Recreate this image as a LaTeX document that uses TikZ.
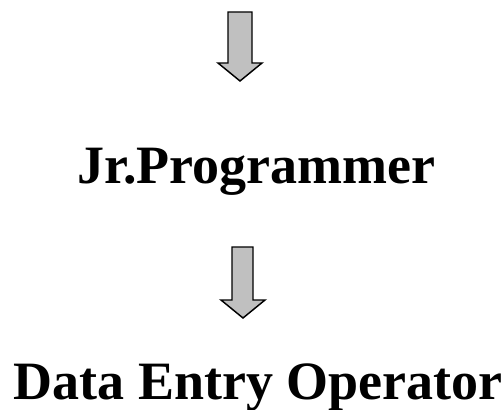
\documentclass[tikz,border=0pt]{standalone}
\usepackage{fontspec}
\setmainfont{Liberation Serif}
\tikzset{
  role/.style={anchor=base,font=\fontsize{40.5}{47}\selectfont\bfseries,inner sep=0pt},
  blockarrow/.style={draw=black,fill=arrowgray,line width=1.1pt,line join=miter}
}
\definecolor{arrowgray}{RGB}{192,192,192}
\begin{document}
\begin{tikzpicture}[x=0.75pt,y=-0.75pt]
		\useasboundingbox (0,0) rectangle (503,410);
		% arrows
			\draw [blockarrow] (228,12) -- (252,12) -- (252,63) -- (262,63) -- (240,81) -- (218,63) -- (228,63) -- cycle;
			\draw [blockarrow] (232,247) -- (253,247) -- (253,300) -- (265,300) -- (243,318) -- (221,300) -- (232,300) -- cycle;
		% roles
			\node [role] (jrprog) at (256.5,183) {Jr.Programmer};
			\node [role] (dataentry) at (258,399) {Data Entry Operator};
	\end{tikzpicture}
\end{document}
